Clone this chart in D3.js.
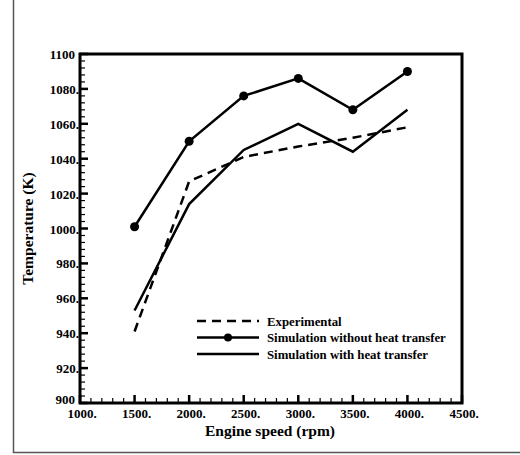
<!DOCTYPE html>
<html>
<head>
<meta charset="utf-8">
<script src="https://cdn.jsdelivr.net/npm/d3@7"></script>
<style>
  body { margin: 0; background: #fff; }
  text { font-family: "Liberation Serif", "DejaVu Serif", serif; font-weight: bold; fill: #000; }
</style>
</head>
<body>
<svg id="chart" width="520" height="455"></svg>
<script>
// engine speed (rpm)
var speeds = [1500, 2000, 2500, 3000, 3500, 4000]
// temperatures (K)
var experimental = [941, 1027, 1041, 1047, 1052, 1058]
var simNoHeat = [1001, 1050, 1076, 1086, 1068, 1090]
var simHeat = [953, 1014, 1045, 1060, 1044, 1068]

var xTicks = [1000, 1500, 2000, 2500, 3000, 3500, 4000, 4500]
var yTicks = [900, 920, 940, 960, 980, 1000, 1020, 1040, 1060, 1080, 1100]

var svg = d3.select("#chart")

// outer frame
svg.append("rect")
	.attr("x", 13.5).attr("y", -5)
	.attr("width", 520).attr("height", 457.5)
	.style("fill", "none").style("stroke", "#555").style("stroke-width", 1.5)

var plotLeft = 80, plotRight = 462, plotTop = 54, plotBottom = 403

var x = d3.scaleLinear().domain([1000, 4500]).range([plotLeft, plotRight])
var y = d3.scaleLinear().domain([900, 1100]).range([plotBottom, plotTop])

// minor ticks
var xMinor = d3.range(1000, 4501, 100).filter(d => d % 500 != 0)
var yMinor = d3.range(900, 1101, 4).filter(d => d % 20 != 0)

svg.selectAll("line.xminor").data(xMinor).enter().append("line")
	.attr("x1", d => x(d)).attr("x2", d => x(d))
	.attr("y1", plotBottom).attr("y2", plotBottom - 5)
	.style("stroke", "#000").style("stroke-width", 1.2)
svg.selectAll("line.yminor").data(yMinor).enter().append("line")
	.attr("y1", d => y(d)).attr("y2", d => y(d))
	.attr("x1", plotLeft).attr("x2", plotLeft + 5)
	.style("stroke", "#000").style("stroke-width", 1.2)

// major ticks
svg.selectAll("line.xmajor").data(xTicks).enter().append("line")
	.attr("x1", d => x(d)).attr("x2", d => x(d))
	.attr("y1", plotBottom).attr("y2", plotBottom - 8)
	.style("stroke", "#000").style("stroke-width", 2.5)
svg.selectAll("line.ymajor").data(yTicks).enter().append("line")
	.attr("y1", d => y(d)).attr("y2", d => y(d))
	.attr("x1", plotLeft).attr("x2", plotLeft + 8)
	.style("stroke", "#000").style("stroke-width", 2.5)

// plot box
svg.append("rect")
	.attr("x", plotLeft).attr("y", plotTop)
	.attr("width", plotRight - plotLeft).attr("height", plotBottom - plotTop)
	.style("fill", "none").style("stroke", "#000").style("stroke-width", 3)

// tick labels
svg.selectAll("text.xlab").data(xTicks).enter().append("text")
	.attr("x", d => x(d) + 2).attr("y", plotBottom + 15)
	.style("font-size", "13px").style("text-anchor", "middle")
	.text(d => d + ".")
svg.selectAll("text.ylab").data(yTicks).enter().append("text")
	.attr("x", d => (d == 900 || d == 1100) ? plotLeft - 5 : plotLeft - 1)
	.attr("y", d => d == 900 ? y(d) + 1 : y(d) + 5)
	.style("font-size", "13px").style("text-anchor", "end")
	.text(d => (d == 900 || d == 1100) ? d : d + ".")

// axis titles
svg.append("text")
	.attr("x", 270).attr("y", 436)
	.style("font-size", "15.5px").style("text-anchor", "middle")
	.text("Engine speed (rpm)")
svg.append("text")
	.attr("transform", "translate(33," + ((plotTop + plotBottom) / 2) + ") rotate(-90)")
	.style("font-size", "15.5px").style("text-anchor", "middle")
	.text("Temperature (K)")

// series
var line = d3.line().x((d, i) => x(speeds[i])).y(d => y(d))

svg.append("path").datum(experimental).attr("d", line)
	.style("fill", "none").style("stroke", "#000").style("stroke-width", 2.5)
	.style("stroke-dasharray", "9,6")
svg.append("path").datum(simNoHeat).attr("d", line)
	.style("fill", "none").style("stroke", "#000").style("stroke-width", 2.5)
svg.append("path").datum(simHeat).attr("d", line)
	.style("fill", "none").style("stroke", "#000").style("stroke-width", 2.5)

svg.selectAll("circle.pt").data(simNoHeat).enter().append("circle")
	.attr("cx", (d, i) => x(speeds[i])).attr("cy", d => y(d))
	.attr("r", 4.5).style("fill", "#000")

// legend
var legendItems = [
	{ label: "Experimental", dash: "9,6", marker: false },
	{ label: "Simulation without heat transfer", dash: null, marker: true },
	{ label: "Simulation with heat transfer", dash: null, marker: false }
]
var legend = svg.selectAll("g.legend").data(legendItems).enter().append("g")
	.attr("transform", (d, i) => `translate(197,${321 + i * 16.5})`)
legend.append("line")
	.attr("x1", 0).attr("x2", 62)
	.style("stroke", "#000").style("stroke-width", 2.5)
	.style("stroke-dasharray", d => d.dash)
legend.filter(d => d.marker).append("circle")
	.attr("cx", 31).attr("r", 4).style("fill", "#000")
legend.append("text")
	.attr("x", 70).attr("y", 4.5)
	.style("font-size", "12.8px")
	.text(d => d.label)
</script>
</body>
</html>
